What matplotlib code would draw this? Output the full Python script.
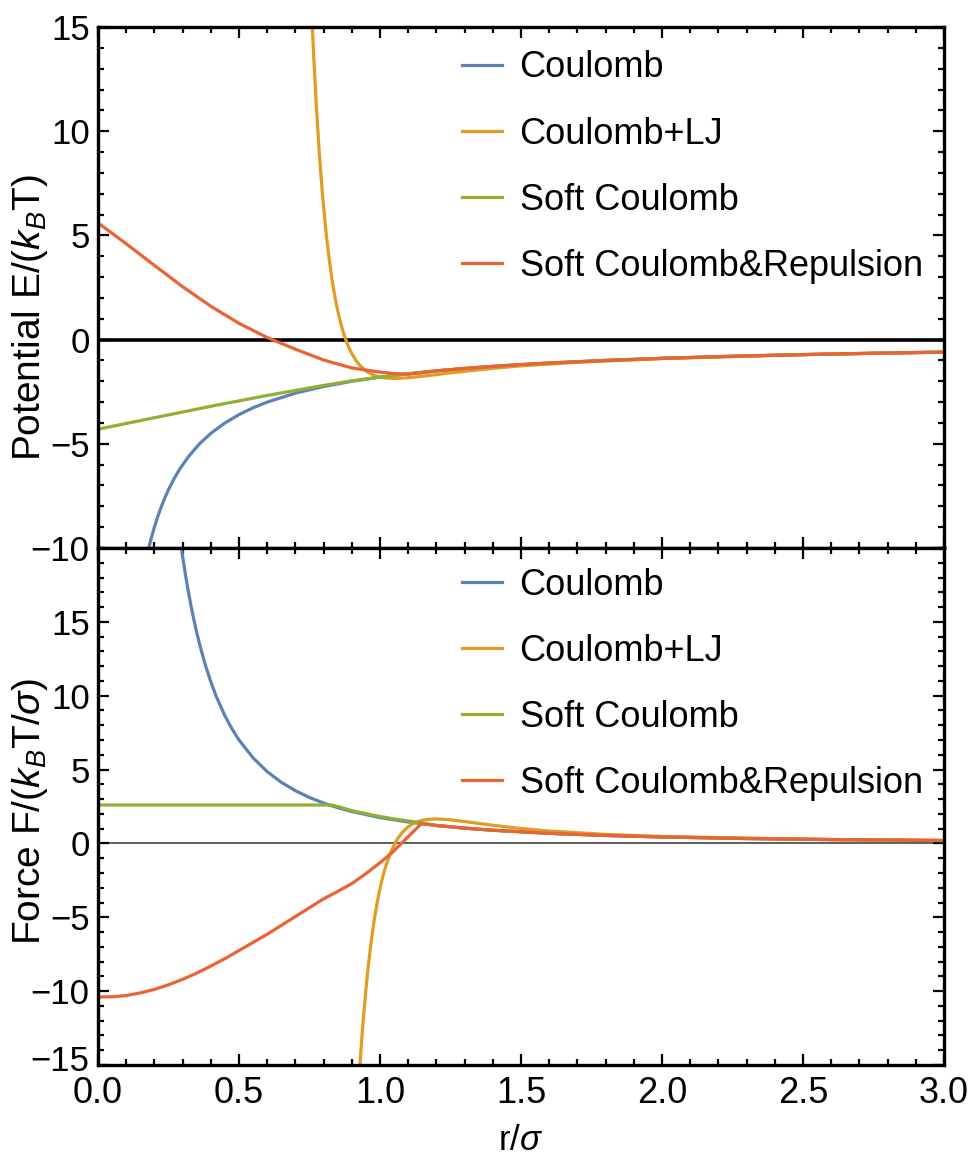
import numpy as np
import matplotlib
matplotlib.use("Agg")
import matplotlib.pyplot as plt
import matplotlib.transforms as mtransforms
from matplotlib.ticker import MultipleLocator

plt.rcParams['font.family'] = ['Liberation Sans', 'DejaVu Sans']
plt.rcParams['mathtext.fontset'] = 'custom'
plt.rcParams['mathtext.rm'] = 'Liberation Sans'
plt.rcParams['mathtext.it'] = 'Liberation Sans:italic'

# colours (Mathematica default palette)
c_blue = '#5E81B5'
c_orange = '#E19C24'
c_green = '#8FB032'
c_red = '#EB6235'

labels = ["Coulomb", "Coulomb+LJ", "Soft Coulomb", "Soft Coulomb&Repulsion"]

# ---------------- potential (top panel) ----------------
r_tail = [1.2, 1.3, 1.4, 1.5, 1.6, 1.8, 2.0, 2.2, 2.4, 2.6, 2.8, 3.0]
e_tail = [-1.50, -1.385, -1.286, -1.20, -1.125, -1.00, -0.90, -0.818, -0.75, -0.692, -0.643, -0.60]

r_coul_e = [0.18, 0.185, 0.19, 0.20, 0.21, 0.22, 0.235, 0.25, 0.27, 0.29, 0.32, 0.36,
            0.40, 0.45, 0.50, 0.55, 0.60, 0.70, 0.80, 0.90, 1.0, 1.1] + r_tail
e_coul = [-10.0, -9.73, -9.47, -9.0, -8.57, -8.18, -7.66, -7.2, -6.67, -6.21, -5.63, -5.0,
          -4.5, -4.0, -3.6, -3.27, -3.0, -2.57, -2.25, -2.0, -1.8, -1.64] + e_tail

r_lj_e = [0.755, 0.765, 0.775, 0.785, 0.795, 0.81, 0.82, 0.83, 0.84, 0.85, 0.86, 0.87,
          0.88, 0.89, 0.90, 0.915, 0.93, 0.945, 0.96, 0.98, 1.0, 1.02, 1.05, 1.1, 1.15,
          1.2, 1.25, 1.3, 1.4, 1.5, 1.7, 2.0, 2.5, 3.0]
e_lj = [16.6, 13.57, 11.03, 8.9, 7.13, 4.97, 3.84, 2.87, 2.06, 1.39, 0.82, 0.34,
        -0.05, -0.40, -0.67, -1.01, -1.26, -1.45, -1.59, -1.72, -1.8, -1.845, -1.87, -1.83, -1.76,
        -1.68, -1.595, -1.52, -1.38, -1.26, -1.09, -0.91, -0.72, -0.60]

r_soft_e = [0.0, 0.2, 0.4, 0.6, 0.8, 0.9, 1.0, 1.1] + r_tail
e_soft = [-4.3, -3.75, -3.2, -2.68, -2.2, -1.98, -1.8, -1.64] + e_tail

r_rep_e = [0.0, 0.1, 0.2, 0.3, 0.4, 0.5, 0.6, 0.7, 0.8, 0.9, 1.0, 1.05, 1.1, 1.15] + r_tail
e_rep = [5.6, 4.6, 3.56, 2.54, 1.60, 0.78, 0.10, -0.46, -0.98, -1.36, -1.56, -1.63, -1.66,
         -1.59] + e_tail

# ---------------- force (bottom panel) ----------------
r_ftail = [1.2, 1.3, 1.4, 1.6, 1.8, 2.0, 2.3, 2.6, 3.0]
f_ftail = [1.215, 1.036, 0.893, 0.684, 0.54, 0.4375, 0.331, 0.259, 0.194]

r_coul_f = [0.29, 0.30, 0.31, 0.32, 0.33, 0.34, 0.35, 0.36, 0.38, 0.40, 0.42, 0.45, 0.475,
            0.50, 0.55, 0.60, 0.65, 0.70, 0.75, 0.80, 0.85, 0.90, 1.0, 1.1] + r_ftail
f_coul = [20.8, 19.44, 18.21, 17.09, 16.07, 15.14, 14.29, 13.5, 12.12, 10.94, 9.92, 8.64, 7.76,
          7.0, 5.79, 4.86, 4.14, 3.57, 3.11, 2.73, 2.42, 2.16, 1.75, 1.45] + f_ftail

r_lj_f = [0.925, 0.93, 0.935, 0.94, 0.95, 0.96, 0.97, 0.98, 0.99, 1.0, 1.01, 1.02, 1.04, 1.06,
          1.08, 1.1, 1.12, 1.15, 1.17, 1.2, 1.25, 1.3, 1.4, 1.5, 1.6, 1.8, 2.0, 2.5, 3.0]
f_lj = [-16.1, -14.7, -13.3, -12.1, -9.89, -8.03, -6.46, -5.13, -4.0, -3.05, -2.24, -1.56, -0.5,
        0.25, 0.77, 1.13, 1.37, 1.57, 1.63, 1.66, 1.6, 1.48, 1.23, 1.01, 0.84, 0.61, 0.47,
        0.288, 0.197]

r_soft_f = [0.0, 0.83, 0.86, 0.9, 0.957, 1.0, 1.05, 1.1, 1.135] + r_ftail
f_soft = [2.6, 2.6, 2.45, 2.22, 1.99, 1.82, 1.66, 1.52, 1.43] + f_ftail

r_rep_f = [0.0, 0.05, 0.1, 0.15, 0.2, 0.25, 0.3, 0.35, 0.4, 0.45, 0.5, 0.55, 0.6, 0.65,
           0.7, 0.75, 0.8, 0.85, 0.9, 0.95, 1.0, 1.04, 1.076, 1.11, 1.147] + r_ftail
f_rep = [-10.4, -10.38, -10.3, -10.12, -9.88, -9.57, -9.2, -8.78, -8.3, -7.8, -7.25, -6.7,
         -6.15, -5.55, -4.95, -4.35, -3.75, -3.25, -2.72, -2.05, -1.3, -0.67, 0.0, 0.65,
         1.34] + f_ftail

W, H = 969, 1169
fig = plt.figure(figsize=(W / 100, H / 100), dpi=100)

x0, x1 = 98, 944
ax1 = fig.add_axes([x0 / W, 1 - 548 / H, (x1 - x0) / W, (548 - 27) / H])
ax2 = fig.add_axes([x0 / W, 1 - 1065 / H, (x1 - x0) / W, (1065 - 548) / H])

lw = 2.3
ax1.axhline(0, color='black', lw=2.6, zorder=1)
ax1.plot(r_coul_e, e_coul, color=c_blue, lw=lw, label=labels[0])
ax1.plot(r_lj_e, e_lj, color=c_orange, lw=lw, label=labels[1])
ax1.plot(r_soft_e, e_soft, color=c_green, lw=lw, label=labels[2])
ax1.plot(r_rep_e, e_rep, color=c_red, lw=lw, label=labels[3])
ax1.set_ylim(-10, 15)

ax2.axhline(0, color='#444444', lw=1.2, zorder=1)
ax2.plot(r_coul_f, f_coul, color=c_blue, lw=lw, label=labels[0])
ax2.plot(r_lj_f, f_lj, color=c_orange, lw=lw, label=labels[1])
ax2.plot(r_soft_f, f_soft, color=c_green, lw=lw, label=labels[2])
ax2.plot(r_rep_f, f_rep, color=c_red, lw=lw, label=labels[3])
ax2.set_ylim(-15, 20)

for ax, top in ((ax1, 0.955), (ax2, 0.962)):
    ax.set_xlim(0, 3)
    ax.xaxis.set_major_locator(MultipleLocator(0.5))
    ax.xaxis.set_minor_locator(MultipleLocator(0.1))
    ax.yaxis.set_major_locator(MultipleLocator(5))
    ax.yaxis.set_minor_locator(MultipleLocator(1))
    ax.tick_params(which='both', direction='in', top=True, right=True, width=1.6)
    ax.tick_params(which='major', length=8, labelsize=25, pad=6)
    ax.tick_params(which='minor', length=4)
    for s in ax.spines.values():
        s.set_linewidth(2.4)
    ax.legend(loc='upper left', bbox_to_anchor=(0.43, top), frameon=False,
              fontsize=26, handlelength=1.1, handletextpad=0.5,
              labelspacing=0.86, borderpad=0, borderaxespad=0)

ax1.tick_params(labelbottom=False)
ax1.set_yticks([-10, -5, 0, 5, 10, 15])
ax2.set_yticks([-15, -10, -5, 0, 5, 10, 15])
ax2.set_xticks([0, 0.5, 1.0, 1.5, 2.0, 2.5, 3.0])
ax2.set_xticklabels(["0.0", "0.5", "1.0", "1.5", "2.0", "2.5", "3.0"])
ax2.tick_params(axis='x', which='major', labelsize=26, pad=8)

# nudge the lowest y label up a little so it clears the "0.0" below it
lowest = ax2.get_yticklabels()[0]
lowest.set_transform(lowest.get_transform() +
                     mtransforms.ScaledTranslation(0, 7 / 100, fig.dpi_scale_trans))

fig.text(30 / W, 1 - 318 / H, r"Potential E/($k_B$T)", rotation=90,
         ha='center', va='center', fontsize=28)
fig.text(30 / W, 1 - 812 / H, r"Force F/($k_B$T/$\sigma$)", rotation=90,
         ha='center', va='center', fontsize=28)
fig.text(521 / W, 1 - 1140 / H, r"r/$\sigma$", ha='center', va='center', fontsize=25)

fig.savefig('out.png', dpi=100)
